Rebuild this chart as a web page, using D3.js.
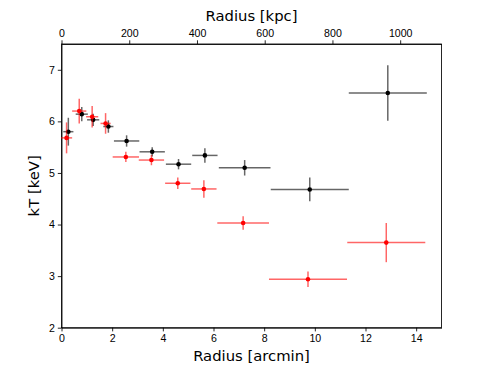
<!DOCTYPE html>
<html>
<head>
<meta charset="utf-8">
<script src="https://cdn.jsdelivr.net/npm/d3@7"></script>
<style>
  body { margin: 0; background: #fff; }
  svg { display: block; font-family: 'DejaVu Sans', sans-serif; }
  .axis text { font-size: 10.6px; fill: #000; }
  .axis path, .axis line { stroke: #000; stroke-width: 0.85; }
</style>
</head>
<body>
<svg id="chart" width="490" height="368"></svg>
<script>
// black profile
const blackR = [0.27, 0.80, 1.25, 1.85, 2.57, 3.58, 4.62, 5.66, 7.23, 9.80, 12.88];
const blackRErr = [0.2, 0.24, 0.24, 0.2, 0.5, 0.5, 0.5, 0.5, 1.02, 1.54, 1.54];
const blackKT = [5.80, 6.14, 6.03, 5.90, 5.62, 5.41, 5.17, 5.34, 5.10, 4.68, 6.55];
const blackKTErr = [0.27, 0.14, 0.12, 0.12, 0.11, 0.09, 0.10, 0.14, 0.15, 0.23, 0.54];

// red profile
const redR = [0.20, 0.70, 1.21, 1.74, 2.54, 3.55, 4.59, 5.62, 7.17, 9.73, 12.82];
const redRErr = [0.22, 0.28, 0.24, 0.2, 0.52, 0.5, 0.5, 0.5, 1.02, 1.54, 1.54];
const redKT = [5.68, 6.20, 6.09, 5.96, 5.31, 5.25, 4.80, 4.69, 4.03, 2.94, 3.65];
const redKTErr = [0.30, 0.24, 0.21, 0.20, 0.10, 0.10, 0.11, 0.17, 0.13, 0.15, 0.38];

const xTicks = [0, 2, 4, 6, 8, 10, 12, 14];
const kpcTicks = [0, 200, 400, 600, 800, 1000];
const yTicks = [2, 3, 4, 5, 6, 7];
const kpcPerArcmin = 74.8;

const svg = d3.select('#chart');
const plotLeft = 61.5, plotRight = 441.5, plotTop = 44, plotBottom = 327.7;
const fmt = d3.format('d');

const x = d3.scaleLinear().domain([0, 15]).range([plotLeft, plotRight]);
const xKpc = d3.scaleLinear().domain([0, 15 * kpcPerArcmin]).range([plotLeft, plotRight]);
const y = d3.scaleLinear().domain([2, 7.5]).range([plotBottom, plotTop]);

// bottom axis
svg.append('g')
  .attr('class', 'axis')
  .attr('transform', `translate(0,${plotBottom})`)
  .call(d3.axisBottom(x).tickValues(xTicks).tickFormat(fmt)
    .tickSize(3.7).tickPadding(3).tickSizeOuter(0));

// top axis (kpc)
svg.append('g')
  .attr('class', 'axis')
  .attr('transform', `translate(0,${plotTop})`)
  .call(d3.axisTop(xKpc).tickValues(kpcTicks).tickFormat(fmt)
    .tickSize(3.7).tickPadding(3).tickSizeOuter(0));

// left axis
svg.append('g')
  .attr('class', 'axis')
  .attr('transform', `translate(${plotLeft},0)`)
  .call(d3.axisLeft(y).tickValues(yTicks).tickFormat(fmt)
    .tickSize(3.7).tickPadding(3).tickSizeOuter(0));

// frame
svg.append('rect')
  .attr('x', plotLeft).attr('y', plotTop)
  .attr('width', plotRight - plotLeft).attr('height', plotBottom - plotTop)
  .attr('fill', 'none').attr('stroke', '#000').attr('stroke-width', 0.85);

// axis labels
svg.append('text')
  .attr('x', (plotLeft + plotRight) / 2).attr('y', 361)
  .attr('text-anchor', 'middle').attr('font-size', 14.8)
  .text('Radius [arcmin]');
svg.append('text')
  .attr('x', (plotLeft + plotRight) / 2).attr('y', 21)
  .attr('text-anchor', 'middle').attr('font-size', 14.8)
  .text('Radius [kpc]');
svg.append('text')
  .attr('transform', `translate(39,${(plotTop + plotBottom) / 2}) rotate(-90)`)
  .attr('text-anchor', 'middle').attr('font-size', 14.8)
  .text('kT [keV]');

function drawSeries(rs, rErr, kts, ktErr, color) {
  const pts = rs.map((r, i) => ({ r, re: rErr[i], kt: kts[i], ke: ktErr[i] }));
  const g = svg.append('g');
  g.selectAll('line.h')
    .data(pts)
    .join('line')
    .attr('class', 'h')
    .attr('x1', (d) => x(d.r - d.re))
    .attr('x2', (d) => x(d.r + d.re))
    .attr('y1', (d) => y(d.kt))
    .attr('y2', (d) => y(d.kt))
    .attr('stroke', color).attr('stroke-opacity', 0.6).attr('stroke-width', 1.5);
  g.selectAll('line.v')
    .data(pts)
    .join('line')
    .attr('class', 'v')
    .attr('x1', (d) => x(d.r))
    .attr('x2', (d) => x(d.r))
    .attr('y1', (d) => y(d.kt - d.ke))
    .attr('y2', (d) => y(d.kt + d.ke))
    .attr('stroke', color).attr('stroke-opacity', 0.6).attr('stroke-width', 1.5);
  g.selectAll('circle')
    .data(pts)
    .join('circle')
    .attr('cx', (d) => x(d.r))
    .attr('cy', (d) => y(d.kt))
    .attr('r', 2.3)
    .attr('fill', color);
}

drawSeries(blackR, blackRErr, blackKT, blackKTErr, '#000');
drawSeries(redR, redRErr, redKT, redKTErr, '#ff0000');
</script>
</body>
</html>
